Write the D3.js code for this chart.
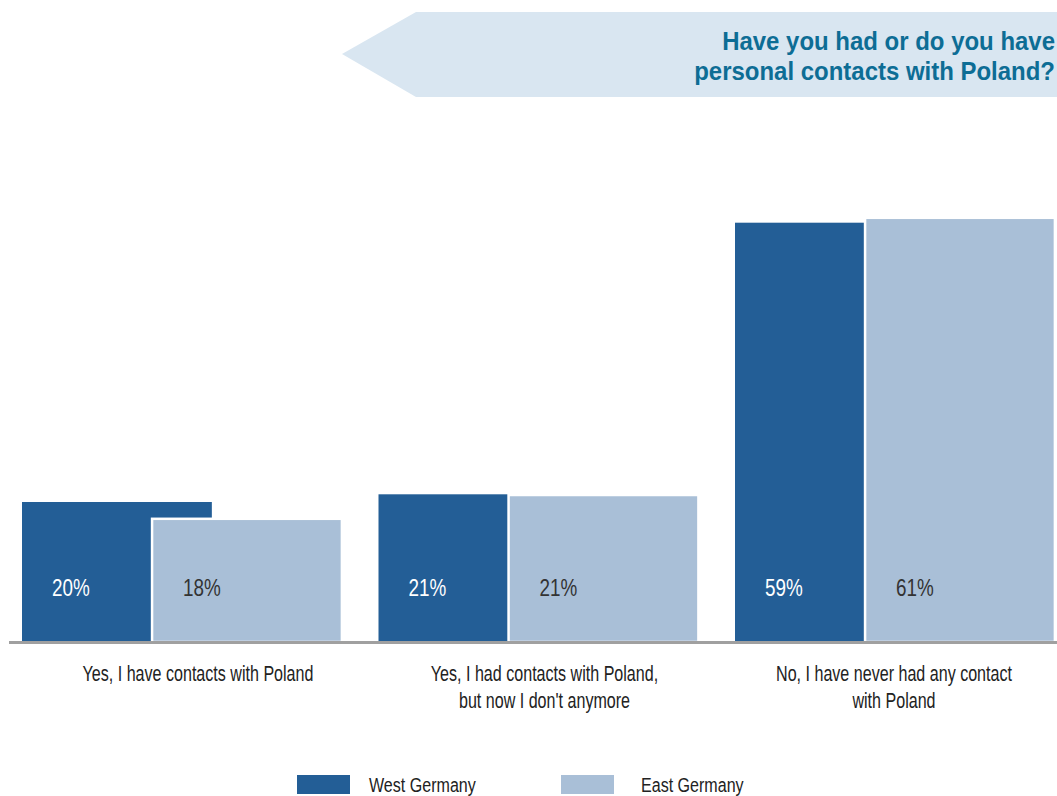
<!DOCTYPE html>
<html><head><meta charset="utf-8">
<script src="https://cdn.jsdelivr.net/npm/d3@7"></script>
<style>
html,body{margin:0;padding:0;background:#fff;}
text{font-family:"Liberation Sans",Arial,sans-serif;}
</style></head>
<body><svg id="c" width="1057" height="796"></svg>
<script>
const categories = [
  ["Yes, I have contacts with Poland"],
  ["Yes, I had contacts with Poland,", "but now I don't anymore"],
  ["No, I have never had any contact", "with Poland"]
];
const series = ["West Germany", "East Germany"];
const westValues = [20.0, 21.1, 59.9];
const eastValues = [17.6, 21.0, 60.6];
const westLabels = ["20%", "21%", "59%"];
const eastLabels = ["18%", "21%", "61%"];
const titleLines = ["Have you had or do you have", "personal contacts with Poland?"];

const colors = {"West Germany": "#235e96", "East Germany": "#a9bfd7"};
const svg = d3.select("#c");

// helper: condensed text group
function ctext(parent, x0, y0, sx) {
  return parent.append("g").attr("transform", `translate(${x0},${y0}) scale(${sx},1)`).append("text");
}

// Title banner
svg.append("path")
  .attr("d", "M342,54 L416,12 L1057,12 L1057,97 L416,97 Z")
  .attr("fill", "#d9e6f1");
ctext(svg, 1055, 50, 0.94)
  .attr("text-anchor", "end")
  .attr("fill", "#0d6d95")
  .attr("font-weight", "bold")
  .attr("font-size", 25.5)
  .selectAll("tspan").data(titleLines).join("tspan")
  .attr("x", 0)
  .attr("y", (d, i) => i * 30)
  .text(d => d);

const baseY = 642;
const x = d3.scaleBand().domain(d3.range(categories.length)).range([22, 1053]).paddingInner(0.108).paddingOuter(0);
const y = d3.scaleLinear().domain([0, 60]).range([baseY, baseY - 420]);
const bw = x.bandwidth();
const barW = bw * 0.597;
const eastOff = bw * 0.409;

const data = categories.map((c, i) => ({i, west: westValues[i], east: eastValues[i], wl: westLabels[i], el: eastLabels[i]}));

const g = svg.append("g");
// West bars
g.selectAll("rect.w").data(data).join("rect").attr("class", "w")
  .attr("x", d => x(d.i))
  .attr("y", d => y(d.west))
  .attr("width", barW)
  .attr("height", d => y(0) - y(d.west))
  .attr("fill", colors["West Germany"]);
// East bars
g.selectAll("rect.e").data(data).join("rect").attr("class", "e")
  .attr("x", d => x(d.i) + eastOff)
  .attr("y", d => y(d.east))
  .attr("width", barW)
  .attr("height", d => y(0) - y(d.east))
  .attr("fill", colors["East Germany"])
  .attr("stroke", "#fff").attr("stroke-width", 2.5);

// Axis line
svg.append("line").attr("x1", 9).attr("x2", 1057).attr("y1", baseY + 0.5).attr("y2", baseY + 0.5)
  .attr("stroke", "#a0a0a0").attr("stroke-width", 3);

// value labels
data.forEach(d => {
  ctext(g, x(d.i) + 30, 596, 0.77).attr("font-size", 24.5).attr("fill", "#fff").text(d.wl);
  ctext(g, x(d.i) + eastOff + 31, 596, 0.77).attr("font-size", 24.5).attr("fill", "#333").text(d.el);
});

// category labels
const labelShift = [17, 7, 0];
categories.forEach((lines, i) => {
  const cx = x(i) + bw / 2 + labelShift[i];
  ctext(svg, cx, 681, 0.715).attr("text-anchor", "middle").attr("font-size", 22.5).attr("fill", "#222")
    .selectAll("tspan").data(lines).join("tspan")
    .attr("x", 0).attr("y", (d, j) => j * 27.5).text(d => d);
});

// legend
const legX = [297, 561];
series.forEach((s, i) => {
  svg.append("rect").attr("x", legX[i]).attr("y", 775).attr("width", 53).attr("height", 19).attr("fill", colors[s]);
  ctext(svg, legX[i] + (i === 0 ? 72 : 80), 792, 0.765).attr("font-size", 21).attr("fill", "#222").text(s);
});
</script></body></html>
